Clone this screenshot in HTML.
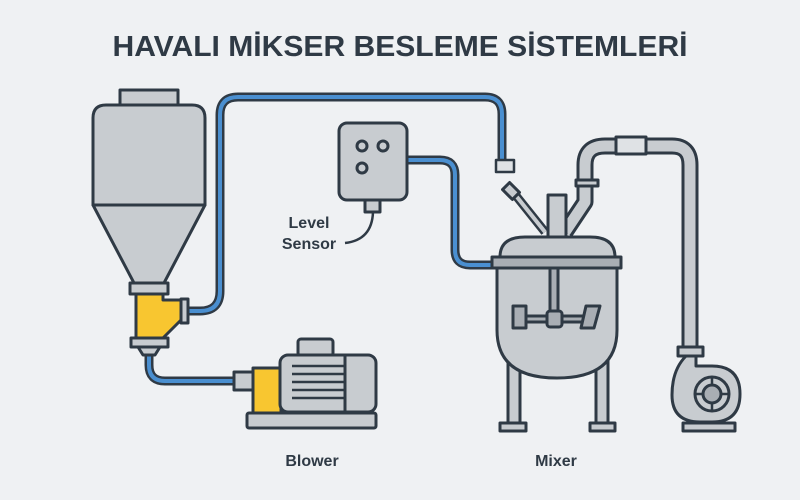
<!DOCTYPE html>
<html><head><meta charset="utf-8"><style>
html,body{margin:0;padding:0;background:#eff1f3}
svg{display:block}
text{font-family:"Liberation Sans",sans-serif;fill:#2f3a45}
</style></head><body>
<svg width="800" height="500" viewBox="0 0 800 500" xmlns="http://www.w3.org/2000/svg">
<rect width="800" height="500" fill="#eff1f3"/>
<text x="400" y="56" text-anchor="middle" font-size="29" font-weight="bold" textLength="575" lengthAdjust="spacingAndGlyphs">HAVALI MİKSER BESLEME SİSTEMLERİ</text>

<g stroke="#2f3a45" stroke-width="3" stroke-linejoin="round" fill="#c8ccd0">
<path d="M187,311 H200 Q220,311 220,291 V115 Q220,97 238,97 H485 Q502,97 502,114 V160" fill="none" stroke-width="9"/>
<path d="M187,311 H200 Q220,311 220,291 V115 Q220,97 238,97 H485 Q502,97 502,114 V160" fill="none" stroke="#4a8fd0" stroke-width="4"/>
<rect x="496" y="160" width="18" height="12" fill="#dfe2e5" stroke-width="2.5"/>
<path d="M149,352 V365 Q149,381 165,381 H236" fill="none" stroke-width="9"/>
<path d="M149,352 V365 Q149,381 165,381 H236" fill="none" stroke="#4a8fd0" stroke-width="4"/>
<path d="M407,160 H440 Q455,160 455,175 V250 Q455,265 470,265 H497" fill="none" stroke-width="9"/>
<path d="M407,160 H440 Q455,160 455,175 V250 Q455,265 470,265 H497" fill="none" stroke="#4a8fd0" stroke-width="4"/>

<rect x="120" y="90" width="58" height="15"/>
<path d="M93,205 V118 Q93,105 106,105 H192 Q205,105 205,118 V205 Z"/>
<path d="M93,205 H205 L164,283 H134 Z"/>
<rect x="130" y="283" width="38" height="11"/>
<path d="M136,294 H163 V300 H181 V320 L163,338 H136 Z" fill="#f8c630"/>
<rect x="181" y="299" width="7" height="24"/>
<rect x="131" y="338" width="37" height="9"/>
<path d="M138,347 H160 L155,355 H143 Z"/>

<rect x="234" y="372" width="21" height="18"/>
<rect x="253" y="368" width="28" height="45" fill="#f8c630"/>
<rect x="298" y="339" width="35" height="17" rx="3"/>
<rect x="280" y="355" width="96" height="57" rx="8"/>
<path d="M345,356 V411" fill="none"/>
<g stroke-width="2.5"><path d="M292,366 H345 M292,374 H345 M292,382 H345 M292,390 H345 M292,398 H345" fill="none"/></g>
<rect x="247" y="413" width="129" height="15" rx="2"/>

<rect x="339" y="123" width="68" height="77" rx="8"/>
<circle cx="362" cy="146" r="5"/><circle cx="383" cy="146" r="5"/><circle cx="362" cy="168" r="5"/>
<rect x="365" y="200" width="15" height="12"/>
<path d="M373,212 Q372,240 345,243" fill="none" stroke-width="2.5"/>

<path d="M545,232 L513,192" fill="none" stroke-width="9"/>
<path d="M545,232 L513,192" fill="none" stroke="#c8ccd0" stroke-width="4"/>
<rect x="504" y="186" width="14" height="10" transform="rotate(45 511 191)"/>
<path d="M565,232 L585,202 V165 Q585,146 605,146 H672 Q690,146 690,165 V350" fill="none" stroke-width="17"/>
<path d="M565,232 L585,202 V165 Q585,146 605,146 H672 Q690,146 690,165 V350" fill="none" stroke="#c8ccd0" stroke-width="11"/>
<rect x="576" y="180" width="22" height="6"/>
<rect x="616" y="137" width="30" height="17" fill="#dfe2e5"/>
<rect x="548" y="195" width="18" height="43"/>
<rect x="508" y="350" width="12" height="75"/>
<rect x="596" y="350" width="12" height="75"/>
<rect x="500" y="423" width="26" height="8"/>
<rect x="590" y="423" width="25" height="8"/>
<path d="M497,268 V330 Q497,378 557,378 Q617,378 617,330 V268 Z"/>
<path d="M500,257 Q500,237 525,237 H590 Q615,237 615,257 Z"/>
<rect x="492" y="257" width="129" height="11" fill="#a9aeb4"/>
<rect x="550" y="268" width="8" height="46" fill="#a9aeb4"/>
<rect x="520" y="316" width="70" height="6" fill="#a9aeb4"/>
<rect x="513" y="306" width="13" height="22" fill="#a9aeb4"/>
<path d="M586,306 H600 L594,328 H581 Z" fill="#a9aeb4"/>
<rect x="547" y="311" width="15" height="16" rx="3" fill="#a9aeb4"/>
<rect x="678" y="347" width="25" height="9"/>
<path d="M686,356 Q672,370 672,395 Q672,422 700,422 H712 Q740,422 740,394 Q740,366 712,366 H696 V356 Z"/>
<circle cx="712" cy="394" r="17"/>
<circle cx="712" cy="394" r="9" fill="#a9aeb4"/>
<path d="M712,377 V385 M712,403 V411 M695,394 H703 M721,394 H729" fill="none" stroke-width="2.5"/>
<rect x="683" y="423" width="52" height="8"/>
</g>

<text x="309" y="228" font-size="16" font-weight="bold" text-anchor="middle">Level</text>
<text x="309" y="249" font-size="16" font-weight="bold" text-anchor="middle">Sensor</text>
<text x="312" y="466" font-size="16" font-weight="bold" text-anchor="middle">Blower</text>
<text x="556" y="466" font-size="16" font-weight="bold" text-anchor="middle">Mixer</text>
</svg>
</body></html>
